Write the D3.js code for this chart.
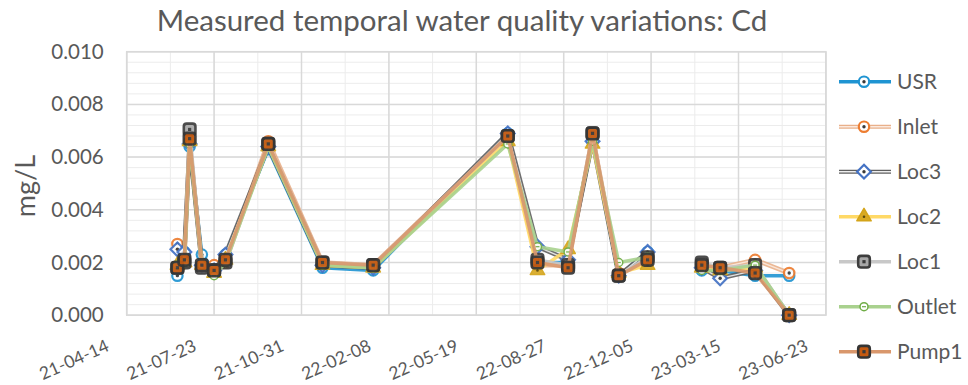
<!DOCTYPE html>
<html>
<head>
<meta charset="utf-8">
<script src="https://cdn.jsdelivr.net/npm/d3@7"></script>
<style>
  html, body { margin: 0; padding: 0; background: #fff; }
  svg { display: block; font-family: Lato, "Open Sans", sans-serif; }
</style>
</head>
<body>
<svg id="chart" width="968" height="385"></svg>
<script>
// Sampling dates (a blank row in January 2023 breaks the lines)
const dates = ["2021-06-11","2021-06-19","2021-06-25","2021-07-09","2021-07-23","2021-08-05",
  "2021-09-23","2021-11-24","2022-01-21","2022-06-24","2022-07-28","2022-09-01","2022-09-29",
  "2022-10-29","2022-12-01","2023-01-05","2023-02-01","2023-02-22","2023-04-03","2023-05-12"];

// Cd concentration, mg/L, per sampling location
const usr    = [0.0015,0.0024,0.0064,0.0023,0.0017,0.0023,0.0063,0.0018,0.0017,0.0069,0.0020,0.0020,0.0066,0.0015,0.0024,null,0.0017,0.0017,0.0015,0.0015];
const inlet  = [0.0027,0.0021,0.0066,0.0019,0.0019,0.0020,0.0066,0.0020,0.0019,0.0068,0.0019,0.0019,0.0068,0.0016,0.0021,null,0.0018,0.0018,0.0021,0.0016];
const loc3   = [0.0025,0.0024,0.0065,0.0019,0.0017,0.0023,0.0064,0.0019,0.0018,0.0069,0.0026,0.0021,0.0066,0.0015,0.0024,null,0.0018,0.0014,0.0017,0.0000];
const loc2   = [0.0019,0.0020,0.0066,0.0019,0.0016,0.0021,0.0064,0.0019,0.0018,0.0066,0.0017,0.0025,0.0065,0.0016,0.0019,null,0.0018,0.0017,0.0018,0.0000];
const loc1   = [0.0018,0.0020,0.00705,0.0018,0.0017,0.0020,0.0065,0.0020,0.0019,0.0068,0.0021,0.0019,0.0069,0.0015,0.0022,null,0.0020,0.0018,0.0019,0.0000];
const outlet = [0.0019,0.0020,0.0065,0.0019,0.0015,0.0020,0.0064,0.0019,0.0018,0.0065,0.0026,0.0024,0.0066,0.0020,0.0022,null,0.0017,0.0017,0.0019,0.0000];
const pump1  = [0.0018,0.0021,0.0067,0.0019,0.0017,0.0021,0.0065,0.0020,0.0019,0.0068,0.0020,0.0018,0.0069,0.0015,0.0021,null,0.0019,0.0018,0.0016,0.0000];

const seriesNames = ["USR","Inlet","Loc3","Loc2","Loc1","Outlet","Pump1"];
const seriesValues = [usr, inlet, loc3, loc2, loc1, outlet, pump1];

// Axis tick labels
const xTickLabels = ["21-04-14","21-07-23","21-10-31","22-02-08","22-05-19","22-08-27","22-12-05","23-03-15","23-06-23"];
const yTickValues = [0, 0.002, 0.004, 0.006, 0.008, 0.010];

const title = "Measured temporal water quality variations: Cd";
const yTitle = "mg/L";

// Visual style for each series
const styles = {
  USR:    { line: [{c:"#1f94d2", w:3.5}], marker: "circle", stroke:"#1f94d2", fill:"#ffffff" },
  Inlet:  { line: [{c:"#e9b08a", w:4.5}, {c:"#fbeadf", w:1.4}], marker: "circle", stroke:"#ed7d31", fill:"#ffffff" },
  Loc3:   { line: [{c:"#5f5f5f", w:4.5}, {c:"#eeeeee", w:1.4}], marker: "diamond", stroke:"#4472c4", fill:"#ffffff" },
  Loc2:   { line: [{c:"#ffd966", w:3.5}], marker: "triangle", stroke:"#d4a419", fill:"#d8a924" },
  Loc1:   { line: [{c:"#c8c8c8", w:3.5}], marker: "square", stroke:"#3d3d3d", fill:"#a8a8a8" },
  Outlet: { line: [{c:"#a9d18e", w:3.5}], marker: "smallcircle", stroke:"#70ad47", fill:"#ffffff" },
  Pump1:  { line: [{c:"#d9976c", w:3.5}], marker: "square", stroke:"#353535", fill:"#c55a11" }
};

const parse = d3.utcParse("%Y-%m-%d");
const tickParse = d3.utcParse("%y-%m-%d");
const fmtTick = d3.utcFormat("%y-%m-%d");

const svg = d3.select("#chart");
const plot = { left: 126.7, right: 825.9, top: 51.7, bottom: 315.2 };

const x = d3.scaleUtc()
  .domain([tickParse(xTickLabels[0]), tickParse(xTickLabels[xTickLabels.length - 1])])
  .range([plot.left, plot.right]);
const y = d3.scaleLinear().domain([0, 0.010]).range([plot.bottom, plot.top]);

// Grid: minor every 50 days / 0.0004, major every 100 days / 0.002
const start = x.domain()[0];
const dayMs = 86400000;
const minorX = d3.range(0, 801, 50).map(d => new Date(start.getTime() + d * dayMs));
const majorX = xTickLabels.map(tickParse);
const minorY = d3.range(0, 26).map(i => i * 0.0004);

const grid = svg.append("g");
grid.selectAll(".gy").data(minorY).join("line")
  .attr("x1", plot.left).attr("x2", plot.right)
  .attr("y1", d => y(d)).attr("y2", d => y(d))
  .attr("stroke", "#ececec").attr("stroke-width", 1);
grid.selectAll(".gx").data(minorX).join("line")
  .attr("y1", plot.top).attr("y2", plot.bottom)
  .attr("x1", d => x(d)).attr("x2", d => x(d))
  .attr("stroke", "#ececec").attr("stroke-width", 1);
grid.selectAll(".gyM").data(yTickValues).join("line")
  .attr("x1", plot.left).attr("x2", plot.right)
  .attr("y1", d => y(d)).attr("y2", d => y(d))
  .attr("stroke", "#d9d9d9").attr("stroke-width", 1.5);
grid.selectAll(".gxM").data(majorX).join("line")
  .attr("y1", plot.top).attr("y2", plot.bottom)
  .attr("x1", d => x(d)).attr("x2", d => x(d))
  .attr("stroke", "#d9d9d9").attr("stroke-width", 1.5);
svg.append("rect")
  .attr("x", plot.left).attr("y", plot.top)
  .attr("width", plot.right - plot.left).attr("height", plot.bottom - plot.top)
  .attr("fill", "none").attr("stroke", "#d9d9d9").attr("stroke-width", 1.5);

// Y axis labels
const yAxis = d3.axisLeft(y).tickValues(yTickValues).tickFormat(d3.format(".3f")).tickSize(0).tickPadding(0);
const gy = svg.append("g").attr("transform", `translate(${plot.left - 23},0)`).call(yAxis);
gy.select(".domain").remove();
gy.selectAll("text").attr("font-size", 20.5).attr("fill", "#595959").attr("font-family", "Lato, sans-serif");

// X axis labels, slanted
const xAxis = d3.axisBottom(x).tickValues(majorX).tickFormat(fmtTick).tickSize(0).tickPadding(0);
const gx = svg.append("g").attr("transform", `translate(0,${plot.bottom})`).call(xAxis);
gx.select(".domain").remove();
gx.selectAll("text")
  .attr("font-size", 17.5).attr("fill", "#595959").attr("font-family", "Lato, sans-serif")
  .attr("text-anchor", "end").attr("dy", 0).attr("y", 0)
  .attr("transform", "translate(-17,35) rotate(-24)");

// Titles
svg.append("text").attr("x", 462).attr("y", 31).attr("text-anchor", "middle")
  .attr("font-size", 29.5).attr("fill", "#595959").text(title);
svg.append("text").attr("transform", "translate(35,186) rotate(-90)").attr("text-anchor", "middle")
  .attr("font-size", 27).attr("fill", "#595959").text(yTitle);

// Marker drawing
function drawMarker(g, type, st) {
  if (type === "circle") {
    g.append("circle").attr("r", 5.2).attr("fill", st.fill).attr("stroke", st.stroke).attr("stroke-width", 2.2);
    g.append("circle").attr("r", 1.7).attr("fill", "#3a3a3a");
  } else if (type === "diamond") {
    g.append("path").attr("d", d3.symbol(d3.symbolDiamond2, 120)())
      .attr("fill", st.fill).attr("stroke", st.stroke).attr("stroke-width", 2.2);
    g.append("circle").attr("r", 1.7).attr("fill", "#3a3a3a");
  } else if (type === "triangle") {
    g.append("path").attr("d", d3.symbol(d3.symbolTriangle, 90)())
      .attr("fill", st.fill).attr("stroke", st.stroke).attr("stroke-width", 1.5).attr("stroke-linejoin", "round");
    g.append("circle").attr("r", 1.3).attr("fill", "#5a4a10");
  } else if (type === "square") {
    g.append("rect").attr("x", -5.8).attr("y", -5.8).attr("width", 11.6).attr("height", 11.6).attr("rx", 2.8)
      .attr("fill", st.fill).attr("stroke", st.stroke).attr("stroke-width", 2.6);
    g.append("rect").attr("x", -1.6).attr("y", -1.6).attr("width", 3.2).attr("height", 3.2).attr("fill", "#3a3a3a");
  } else if (type === "smallcircle") {
    g.append("circle").attr("r", 4).attr("fill", st.fill).attr("stroke", st.stroke).attr("stroke-width", 1.5);
    g.append("line").attr("x1", -2).attr("x2", 2).attr("stroke", "#70ad47").attr("stroke-width", 1.2);
  }
}

// Series lines and markers
const plotG = svg.append("g");
seriesNames.forEach((name, i) => {
  const st = styles[name];
  const pts = dates.map((d, j) => ({ date: parse(d), v: seriesValues[i][j] }));
  const line = d3.line().defined(d => d.v != null).x(d => x(d.date)).y(d => y(d.v));
  const sg = plotG.append("g");
  st.line.forEach(l => {
    sg.append("path").datum(pts).attr("d", line).attr("fill", "none")
      .attr("stroke", l.c).attr("stroke-width", l.w).attr("stroke-linejoin", "round").attr("stroke-opacity", 0.9);
  });
  pts.filter(d => d.v != null).forEach(d => {
    const mg = sg.append("g").attr("transform", `translate(${x(d.date)},${y(d.v)})`).attr("opacity", 0.92);
    drawMarker(mg, st.marker, st);
  });
});

// Legend
const legend = svg.append("g");
seriesNames.forEach((name, i) => {
  const st = styles[name];
  const ly = 81.7 + 45 * i;
  const lg = legend.append("g").attr("transform", `translate(0,${ly})`);
  st.line.forEach(l => {
    lg.append("line").attr("x1", 839).attr("x2", 891).attr("stroke", l.c).attr("stroke-width", Math.min(l.w, 4));
  });
  const mg = lg.append("g").attr("transform", "translate(864,0)");
  drawMarker(mg, st.marker, st);
  lg.append("text").attr("x", 897).attr("y", 7.5).attr("font-size", 21).attr("fill", "#595959").text(name);
});
</script>
</body>
</html>
